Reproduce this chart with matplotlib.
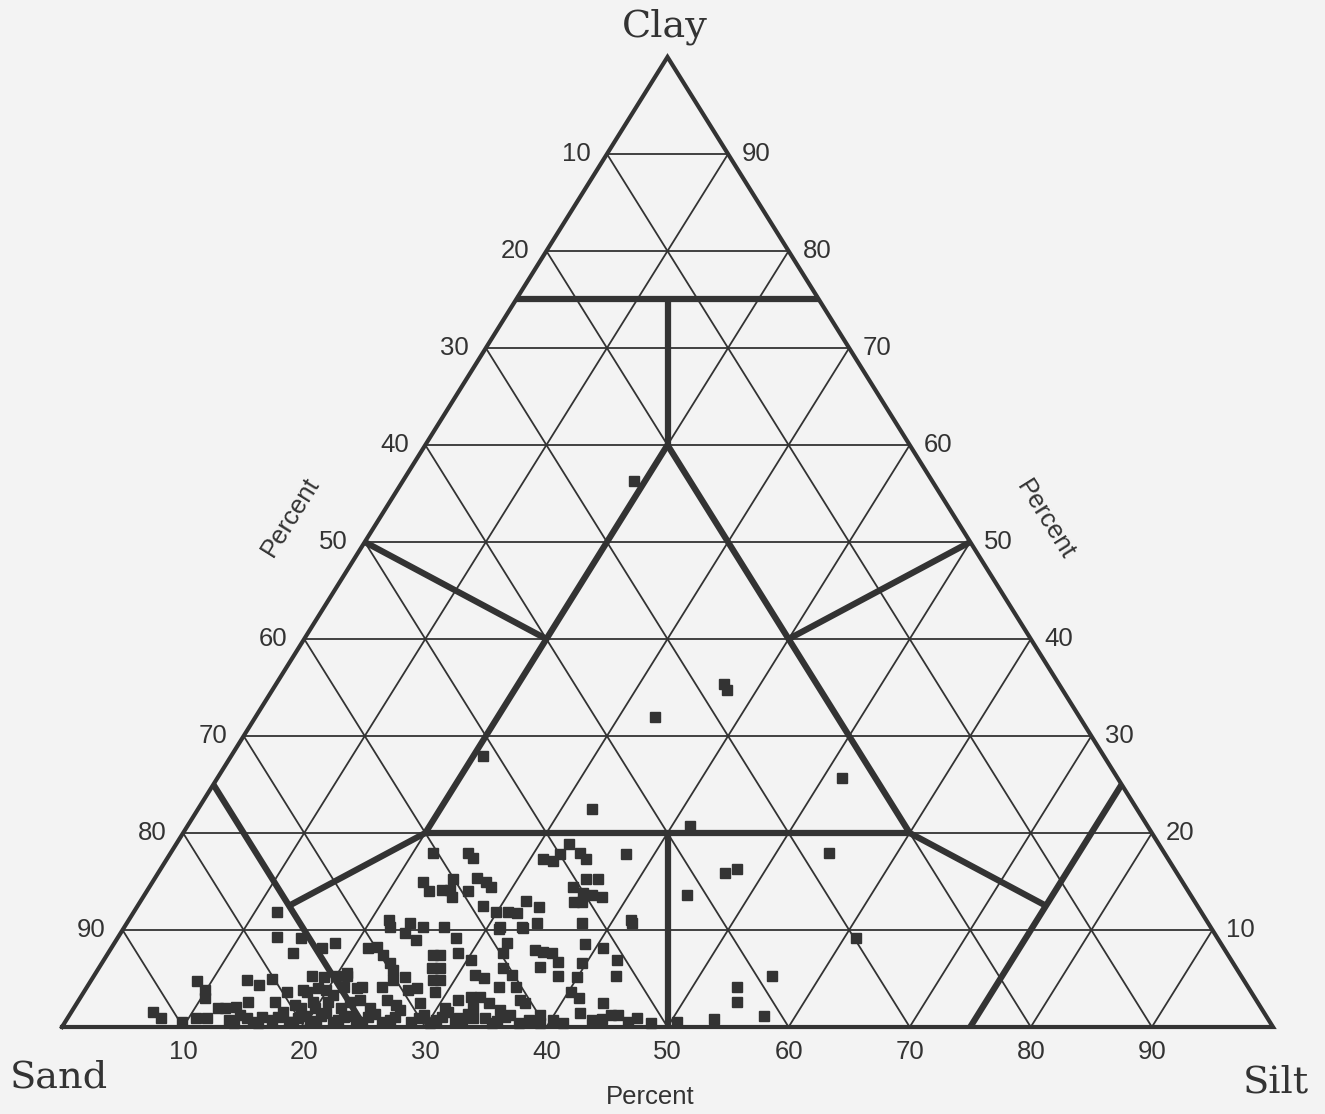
import matplotlib
matplotlib.use("Agg")
import matplotlib.pyplot as plt

# sample points, percent clay and percent silt (sand is the rest)
clay = [
    56.3, 35.4, 34.7, 32.0, 27.9, 25.7, 22.5, 20.7, 17.8, 15.9, 16.3, 17.9, 13.6, 9.2,
    11.0, 5.3, 4.1, 2.6, 1.1, 0.8, 0.5, 6.9, 8.1,
    17.9, 17.9, 17.4, 14.9, 14.0, 15.3, 14.1, 13.4, 14.1, 14.0, 15.4, 14.9, 14.4, 12.5,
    11.9, 11.9, 11.8, 13.0, 12.4, 10.7, 18.9, 17.9, 17.3, 17.3, 17.1, 17.8, 14.4, 15.3,
    15.3, 13.8, 13.6, 13.4, 12.9, 12.9, 10.7, 10.7, 10.7, 10.3, 10.3, 10.3, 10.3,
    11.0, 10.3, 9.7, 9.0, 9.2, 10.1, 8.7, 7.9, 7.6, 8.1, 8.2, 7.4, 6.6, 5.9, 7.4, 7.4,
    6.1, 6.1, 4.8, 4.8, 3.6, 7.6, 6.9, 5.4, 5.1, 4.1, 6.1, 5.4, 4.1, 2.8, 5.6, 4.1, 4.1,
    4.8, 5.2, 3.8, 4.0, 2.8, 2.8, 2.8, 3.1, 3.1, 2.5, 2.0, 0.9, 0.9,
    10.2, 8.6, 7.7, 7.6, 6.7, 6.2, 6.6, 5.3, 5.2, 5.3, 3.6, 3.0, 2.5, 2.5, 1.4, 1.2, 0.7,
    0.4, 0.7, 0.4, 0.7, 0.8, 1.2, 1.2, 0.5, 0.9, 0.4,
    11.9, 9.3, 9.2, 8.7, 7.6, 8.1, 5.3, 5.2, 5.3, 5.3, 4.7, 3.8, 3.0, 4.8, 4.3, 4.9, 2.6,
    2.0, 2.1, 2.6, 3.6, 1.5, 0.9, 0.5, 0.9, 0.9, 3.6, 4.0, 2.6, 2.6, 3.3, 2.6, 4.0, 3.8,
    4.1,
    0.7, 1.2, 0.5, 1.0, 0.7, 1.5, 0.5, 1.1, 0.6, 1.4, 0.7, 1.1, 0.5, 1.3, 0.7, 1.8, 0.5,
    1.2, 0.7, 1.5, 0.5, 0.9, 0.6, 1.2, 2.0, 2.0, 2.0, 2.3, 2.5, 2.0, 1.8,
    0.4, 0.9, 0.4, 1.0, 0.5, 0.9, 0.5, 1.1, 0.5, 1.0, 0.5, 1.0, 0.5, 1.0, 0.9, 0.4, 1.0,
    0.5, 1.3, 0.4, 1.0, 0.4, 2.0, 2.0, 3.8, 2.3,
]
silt = [
    19.1, 37.0, 37.6, 33.0, 20.8, 51.6, 32.5, 41.5, 37.7, 46.8, 47.6, 54.4, 44.8, 61.0,
    41.5, 56.0, 53.7, 54.4, 57.4, 53.4, 50.5, 42.4, 40.6,
    21.7, 24.6, 25.2, 22.4, 23.3, 24.6, 24.3, 25.5, 25.0, 26.5, 26.6, 27.6, 28.2, 28.5,
    29.9, 30.9, 31.7, 31.8, 33.2, 33.9, 32.4, 33.8, 34.6, 31.1, 32.0, 32.2, 35.0, 35.6,
    36.6, 36.1, 37.0, 37.9, 35.8, 36.5, 37.6, 41.7, 23.4, 24.7, 26.4, 31.0, 32.8,
    21.5, 21.9, 23.5, 24.7, 27.9, 31.0, 32.4, 35.1, 32.6, 21.2, 21.9, 22.8, 23.8, 24.4,
    26.9, 27.5, 27.5, 28.2, 28.2, 28.8, 29.0, 28.9, 30.3, 31.4, 32.3, 34.0, 33.4, 34.5,
    35.4, 36.4, 20.7, 22.7, 24.4, 24.9, 25.7, 26.7, 27.3, 23.2, 25.4, 31.3, 32.2, 33.0,
    34.0, 32.9, 33.5, 32.3,
    33.0, 38.9, 35.9, 36.7, 37.6, 36.4, 39.6, 38.3, 39.9, 43.1, 40.2, 41.2, 43.4, 37.0,
    42.1, 38.9, 38.2, 39.3, 40.2, 41.2, 43.4, 44.2, 44.7, 45.3, 46.5, 47.0, 48.4,
    11.8, 13.1, 15.1, 18.2, 15.3, 17.4, 18.0, 19.0, 20.0, 20.9, 8.8, 9.9, 10.3, 12.9,
    14.1, 14.9, 14.1, 11.9, 13.3, 16.3, 16.8, 6.8, 7.7, 9.7, 10.6, 11.5, 18.4, 19.1, 19.4,
    20.7, 20.7, 22.5, 22.4, 18.0, 21.2,
    13.4, 14.1, 15.5, 16.0, 17.0, 17.5, 18.8, 19.5, 20.7, 21.1, 22.4, 23.2, 24.5, 25.2,
    26.7, 27.0, 28.6, 29.3, 30.5, 31.1, 32.8, 34.5, 35.6, 36.4, 12.5, 18.7, 24.4, 26.4,
    28.3, 30.6, 35.3,
    14.0, 14.8, 16.0, 17.3, 18.5, 19.0, 20.2, 20.8, 22.1, 22.8, 24.0, 24.8, 26.2, 27.0,
    29.0, 30.2, 30.9, 32.2, 32.9, 35.3, 36.1, 37.5, 19.9, 22.0, 19.9, 18.1,
]

# texture class boundaries as (clay, silt) end points
boundaries = [
    ((75, 0), (75, 25)),
    ((75, 12.5), (60, 20)),
    ((60, 20), (20, 20)),
    ((60, 20), (20, 60)),
    ((20, 20), (20, 60)),
    ((20, 40), (0, 50)),
    ((50, 0), (40, 20)),
    ((50, 50), (40, 40)),
    ((25, 0), (0, 25)),
    ((20, 20), (12.5, 12.5)),
    ((25, 75), (0, 75)),
    ((20, 60), (12.5, 75)),
]

ticks = [10, 20, 30, 40, 50, 60, 70, 80, 90]

ink = "#333333"
bg = "#f3f3f3"
num_font = "Liberation Sans"
corner_font = "DejaVu Serif"
num_size = 18.5


def tx(c, s):
    return s + c / 2.0


fig = plt.figure(figsize=(13.25, 11.14), dpi=100, facecolor=bg)
ax = fig.add_axes([62 / 1325, 87 / 1114, 1211 / 1325, 970 / 1114])
ax.set_facecolor(bg)
ax.set_xlim(0, 100)
ax.set_ylim(0, 100)
ax.axis("off")

# thin grid
for k in ticks:
    ax.plot([k / 2, 100 - k / 2], [k, k], color=ink, lw=1.3, zorder=1)
    ax.plot([k, k + (100 - k) / 2], [0, 100 - k], color=ink, lw=1.3, zorder=1)
    ax.plot([100 - k, (100 - k) / 2], [0, 100 - k], color=ink, lw=1.3, zorder=1)

# outline
ax.plot([0, 100, 50, 0], [0, 0, 100, 0], color=ink, lw=3.0, zorder=3,
        solid_joinstyle="miter", clip_on=False)

# class boundaries
for (c1, s1), (c2, s2) in boundaries:
    ax.plot([tx(c1, s1), tx(c2, s2)], [c1, c2], color=ink, lw=4.5, zorder=2,
            solid_capstyle="butt")

# samples
ax.plot([tx(c, s) for c, s in zip(clay, silt)], clay, linestyle="none", marker="s",
        ms=6.6, color=ink, mec=ink, zorder=4, clip_on=False)

# tick labels
for v in ticks:
    ax.annotate(str(v), (v, 0), xytext=(0, -18), textcoords="offset points",
                ha="center", va="center", fontsize=num_size, family=num_font, color=ink)
    ax.annotate(str(v), ((100 - v) / 2, 100 - v), xytext=(-12, 0), textcoords="offset points",
                ha="right", va="center", fontsize=num_size, family=num_font, color=ink)
    ax.annotate(str(v), (100 - v / 2, v), xytext=(10, 0), textcoords="offset points",
                ha="left", va="center", fontsize=num_size, family=num_font, color=ink)

ax.text(48.6, -7.2, "Percent", ha="center", va="center", fontsize=num_size,
        family=num_font, color=ink, clip_on=False)
ax.text(18.9, 52.6, "Percent", ha="center", va="center", fontsize=num_size, rotation=58,
        family=num_font, color=ink, clip_on=False)
ax.text(81.2, 52.3, "Percent", ha="center", va="center", fontsize=num_size, rotation=-58,
        family=num_font, color=ink, clip_on=False)

ax.text(49.8, 103.1, "Clay", ha="center", va="center", fontsize=27.5,
        family=corner_font, color=ink, clip_on=False)
ax.text(-0.3, -5.2, "Sand", ha="center", va="center", fontsize=27.5,
        family=corner_font, color=ink, clip_on=False)
ax.text(100.2, -5.7, "Silt", ha="center", va="center", fontsize=27.5,
        family=corner_font, color=ink, clip_on=False)

fig.savefig("out.png", dpi=100, facecolor=bg)
